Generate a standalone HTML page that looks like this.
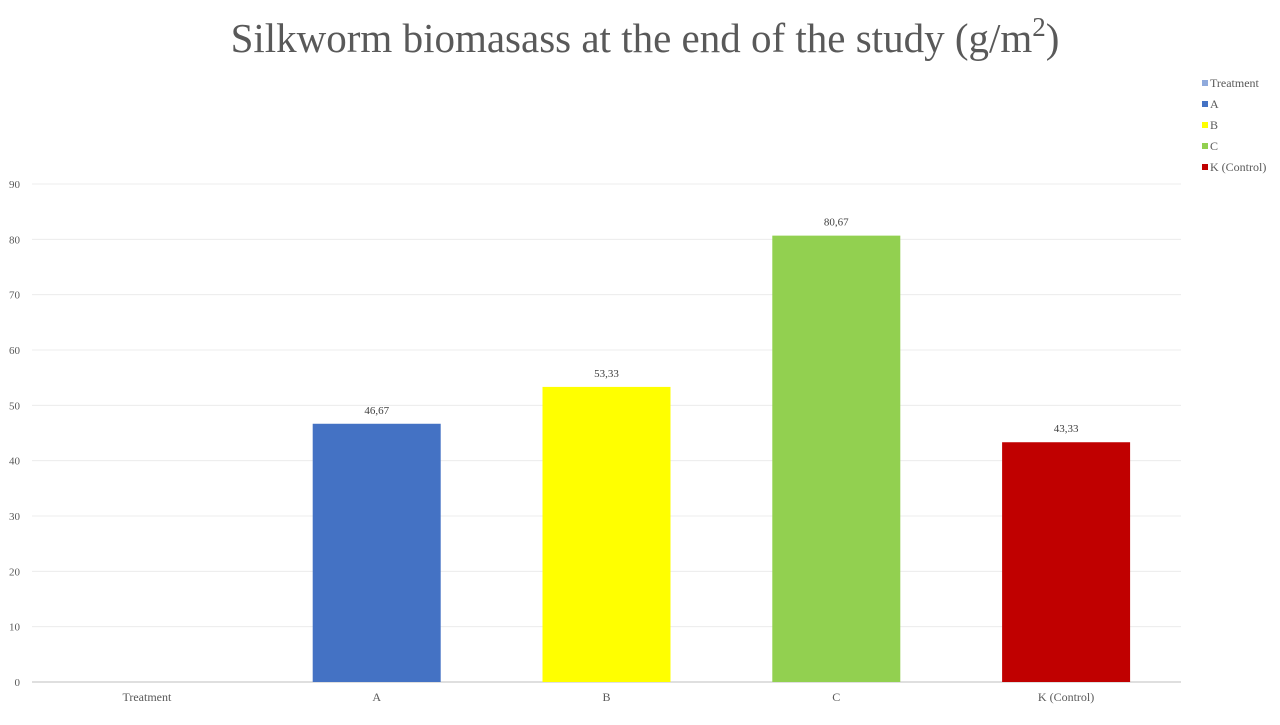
<!DOCTYPE html>
<html><head><meta charset="utf-8"><style>
body{margin:0;background:#fff;width:1280px;height:720px;overflow:hidden}
svg text{font-family:"Liberation Serif",serif}
</style></head><body>
<svg id="chart" width="1280" height="720">
<text x="645" y="52" text-anchor="middle" font-size="41" fill="#595959">Silkworm biomasass at the end of the  study (g/m<tspan dy="-16" font-size="27">2</tspan><tspan dy="16">)</tspan></text>
<g id="grid"></g><g id="bars"></g><g id="legend"></g>
</svg>
<script>
const categories=["Treatment","A","B","C","K (Control)"];
const values=[null,46.67,53.33,80.67,43.33];
const labels=["","46,67","53,33","80,67","43,33"];
const colors=["#8faadc","#4472c4","#ffff00","#92d050","#c00000"];
const yTicks=[0,10,20,30,40,50,60,70,80,90];
const NS="http://www.w3.org/2000/svg";
const x0=32,x1=1181,y0=682,yTop=184,yMax=90;
const y=v=>y0-(v/yMax)*(y0-yTop);
const band=(x1-x0)/categories.length;
const xc=i=>x0+band*(i+0.5);
function mk(t,a,p,txt){const e=document.createElementNS(NS,t);for(const k in a)e.setAttribute(k,a[k]);if(txt!==undefined)e.textContent=txt;p.appendChild(e);return e;}
const grid=document.getElementById('grid');
yTicks.forEach(v=>{
 const l=mk('line',{x1:x0,x2:x1,y1:y(v),y2:y(v),stroke:v===0?'#bfbfbf':'#ececec','stroke-width':1},grid);
 
 
 const t=mk('text',{x:20,y:y(v)+4,'text-anchor':'end','font-size':11,fill:'#595959','font-family':'Liberation Sans, sans-serif'},grid,String(v));
 
 
});
const bars=document.getElementById('bars');
categories.forEach((c,i)=>{
 const t=mk('text',{x:xc(i),y:701,'text-anchor':'middle','font-size':12,fill:'#595959'},bars,c);
 
 
 if(values[i]==null)return;
 const w=128;
 const r=mk('rect',{x:xc(i)-w/2,y:y(values[i]),width:w,height:y0-y(values[i]),fill:colors[i]},bars);
 
 
 const lb=mk('text',{x:xc(i),y:y(values[i])-10,'text-anchor':'middle','font-size':11,fill:'#404040','font-family':'Liberation Sans, sans-serif'},bars,labels[i]);
 
 
});
const lg=document.getElementById('legend');
categories.forEach((c,i)=>{
 const g=mk('g',{},lg);
 
 
 mk('rect',{x:1202,y:80+i*21,width:6,height:6,fill:colors[i]},g);
 mk('text',{x:1210,y:87+i*21,'font-size':12,fill:'#595959'},g,c);
});
</script>
</body></html>
